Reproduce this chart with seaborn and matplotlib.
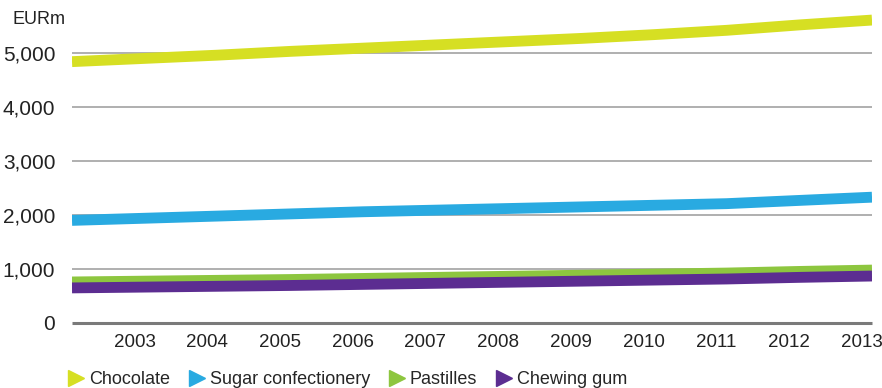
import matplotlib
matplotlib.use("Agg")
import matplotlib.pyplot as plt
from matplotlib.lines import Line2D
import seaborn as sns
import pandas as pd

years = [2002, 2003, 2004, 2005, 2006, 2007, 2008, 2009, 2010, 2011, 2012, 2013]
chocolate = [4840, 4900, 4960, 5030, 5090, 5150, 5210, 5270, 5340, 5420, 5520, 5610]
sugar_confectionery = [1900, 1940, 1980, 2020, 2060, 2090, 2120, 2150, 2180, 2210, 2270, 2330]
pastilles = [760, 775, 790, 805, 825, 845, 865, 885, 905, 925, 955, 980]
chewing_gum = [650, 665, 680, 695, 715, 735, 755, 775, 795, 815, 845, 870]

series_names = ["Chocolate", "Sugar confectionery", "Pastilles", "Chewing gum"]
series_values = [chocolate, sugar_confectionery, pastilles, chewing_gum]
colors = ["#d6df23", "#29aae1", "#8dc63f", "#5c2d91"]
tick_years = [2003, 2004, 2005, 2006, 2007, 2008, 2009, 2010, 2011, 2012, 2013]
y_ticks = [0, 1000, 2000, 3000, 4000, 5000]
y_labels = ["0", "1,000", "2,000", "3,000", "4,000", "5,000"]

rows = []
for name, vals in zip(series_names, series_values):
    for y, v in zip(years, vals):
        rows.append({"year": y, "value": v, "series": name})
df = pd.DataFrame(rows)

sns.set_theme(style="white")
plt.rcParams["font.family"] = ["Liberation Sans", "DejaVu Sans"]

fig = plt.figure(figsize=(8.82, 3.88), dpi=100)
ax = fig.add_axes([72 / 882, (388 - 323) / 388, 800 / 882, 318.6 / 388])

# grid lines
for t in y_ticks[1:]:
    ax.axhline(t, color="#9a9a9a", lw=1.1, zorder=0)
ax.axhline(0, color="#7a7a7a", lw=2.2, zorder=0, clip_on=False)

sns.lineplot(data=df, x="year", y="value", hue="series", palette=colors,
             hue_order=series_names, linewidth=7.8, ax=ax, legend=False,
             zorder=3)
for ln in ax.get_lines():
    ln.set_solid_capstyle("butt")

ax.set_xlim(2002, 2013)
ax.set_ylim(0, 5900)
# labels sit slightly left of each year's point, as in the original
label_shift = 0.14
ax.set_xticks([y - label_shift for y in tick_years])
ax.set_xticklabels([str(y) for y in tick_years], fontsize=13.5, color="#222222")
ax.set_yticks(y_ticks)
ax.set_yticklabels(y_labels, fontsize=15, color="#222222")
ax.tick_params(axis="both", length=0)
ax.tick_params(axis="x", pad=8)
ax.tick_params(axis="y", pad=12)
ax.set_xlabel("")
ax.set_ylabel("")
for s in ax.spines.values():
    s.set_visible(False)

fig.text(12 / 882, 1 - 20 / 388, "EURm", fontsize=13, color="#222222",
         va="center", ha="left")

handles = [Line2D([], [], marker=">", linestyle="none", color=c, markersize=11)
           for c in colors]
fig.legend(handles, series_names, loc="center left",
           bbox_to_anchor=(69 / 882, 1 - 380 / 388), ncol=4, frameon=False,
           fontsize=13, handlelength=0.8, handletextpad=0.3, columnspacing=1.1,
           borderaxespad=0, borderpad=0)

fig.savefig("out.png", dpi=100)
